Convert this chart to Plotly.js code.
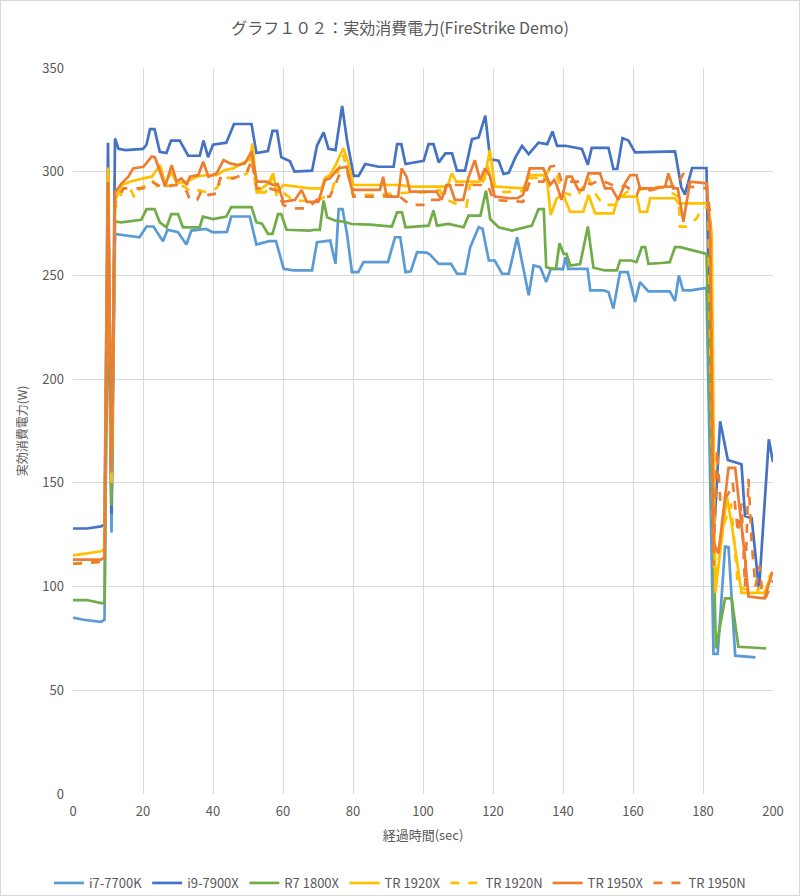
<!DOCTYPE html>
<html>
<head>
<meta charset="utf-8">
<script src="https://cdn.plot.ly/plotly-3.0.1.min.js"></script>
<style>
html,body{margin:0;padding:0;background:#fff;}
#wrap{position:relative;width:800px;height:896px;}
#chart{width:800px;height:896px;}
#frame{position:absolute;left:0;top:0;width:798px;height:894px;border:1px solid #D9D9D9;pointer-events:none;}
</style>
</head>
<body>
<div id="wrap"><div id="chart"></div><div id="frame"></div></div>
<script>
// ---- data (elapsed seconds, watts) ----
const seriesNames = ["i7-7700K","i9-7900X","R7 1800X","TR 1920X","TR 1920N","TR 1950X","TR 1950N"];

const i7X = [0,3,8,9,10,11,12,14,19,21,23,25.7,27,30,32.4,33.8,38,40,44,45.2,50.5,52.4,56,58,60.2,63,68.3,69.7,73.5,75,75.9,77,78.3,79.7,81.5,83,87,90,92,93.5,95,96.5,98.3,101,102,104.5,108,109.7,112,113.5,115.9,117,118.8,120.5,122.6,124.5,126.9,130.2,131.6,133.5,135.2,136.5,138.8,140,140.7,141.5,147,147.8,151.6,153,154.4,156.3,158.5,160.6,162,164.4,170.5,172,173.1,174.3,176.5,181,183,184.2,186.3,187.3,189.2,195];
const i7Y = [85,84,83,84,260,126,270,269.6,268.4,273.6,273.6,266.5,272,270.8,264.9,271.6,272.4,270.8,271,278.4,278.4,264.9,266.5,266.5,253.2,252.4,252.4,266,266.8,255.6,282,282,270,251.6,251.6,256.4,256.4,256.4,268.4,268.4,251.6,252,261.2,261,260,255.6,255.6,250.8,250.8,263.6,273.2,272.5,257.2,257.2,250.8,250.8,268.4,240.4,254.8,254,246.8,253.2,253.2,253,258.8,253.2,253.2,242.8,242.8,242,234,251.6,251.6,237.2,246.8,242.3,242.3,237.7,250,242.8,242.8,244,67.6,67.6,119.3,119,66.7,65.9];

const i9X = [0,4,8,9,10,11,12,13,15,20,21,22,23.3,24.8,26.7,28,30.5,32.9,36.2,37.3,38.6,40,43.8,46,51,52.4,55.7,57,58.3,59.5,62,63.3,68.3,69.7,71.6,73,75,76.9,78.3,80.2,81.6,83.5,87.3,91.6,92.6,93.8,95,100.2,101.6,103,104.5,106.4,108.3,109.7,112,114,115.9,117.8,119.2,121.6,123,124.5,126.4,128.3,130.2,133,135.5,137,138.3,140.7,145.4,147.1,148.2,153,154.4,155.5,157,158.7,160.6,164.5,170,172,173.8,174.8,176.9,181,183,184.9,187.1,191,192,193.9,196,198.8,200];
const i9Y = [128,128,129,130,314,135,316,311,310.4,311,313,320.5,320.5,309.6,309,315,315,307.7,307.7,315,307,313,314,323,323,309,310,319.7,319.7,307,305,300,300.5,312.5,319,311,310.4,331.7,315,298,298,303.7,302.4,302.4,313.3,313.3,303.7,305.3,313.3,313.3,304.5,308.8,308.8,300.5,300.5,315.7,316.5,327,306,305.3,298.9,299.5,306.9,312.5,308.5,314,313.3,319.4,312.5,312.5,311,303.4,311.5,311.5,301.3,301.3,316.2,315,309.3,309.5,309.8,309.8,292.5,289,301.8,301.8,120,179.7,161,159,134,133,98.6,171,160];

const r7X = [0,4,8,9,10,11,12,13.8,19.5,21,23.3,24.8,26.7,28.1,30,31.4,36.2,37.1,40,43.8,45.2,51,52.4,54,55.7,57,58.6,59.5,61,67.6,69,70.5,71.6,72.6,75,77,79.7,85,91.1,92.6,94,95,101.6,103,104,107.3,111.6,113,116.4,118,119.2,121.6,125.4,131.1,133,134.5,135.2,136.9,138,139,140.2,141,142.1,144.9,147.1,148.7,152,155.4,156.3,159.5,161,162.5,163.5,164.4,168,170.5,172,173.5,181,183.7,186.3,188.2,190.1,198];
const r7Y = [93.5,93.5,92,92,270,139,276,275.6,276.8,282,282,275.6,273.2,279.6,279.6,273.2,273.2,278.4,277.2,278.4,282.9,282.9,275.6,275,270,270,279.6,279.6,272,271.6,272,272,286.1,278,276.4,276,274.8,274.5,273.6,280.4,280.4,273.2,274,281.3,274,274.8,273.2,278.8,278.8,290.9,277.2,273.2,271.6,274,282,282,254,253.2,253.2,265.5,260.4,260.4,254.8,255.5,273.6,253.7,252.4,252.4,257.2,257.2,256.4,263.6,263.6,255.6,256,256.4,263.6,263.6,260.4,70.2,94.3,94.3,71,70.2];

const tr1920xX = [0,8,9,10,11,12,13.9,16.3,20.1,22.5,24.9,26.3,28.2,29.6,32.5,35.3,38.2,41,43.4,45.8,48.2,50.6,51.3,52.5,54,55.8,57.2,58.2,60.1,63.9,67.7,71,72,73.4,75,77.2,78.6,80.1,86.7,93.4,96.3,107,108.2,109.5,112.4,116,117.5,119.1,120.5,121,128.6,130.5,134.4,135.5,136.5,138.2,140.1,142,145.8,147.3,149.2,154.4,155.8,161.1,162,164,164.9,172,173,176.3,181.5,182.5,183.5,186.8,188.2,191,197.6,199.8];
const tr1920xY = [115,117,118,302,150,286,293.6,295.2,296.8,297.6,303.2,294.4,300,294.4,295.2,297.6,298.4,298.4,300.8,301.6,304,306,313.7,289.6,292,294.4,299.2,289.6,293.6,292.8,292,292,297,298.4,303,311.3,304.8,293.6,293.6,293.6,292.8,292.8,299.2,295.2,295.2,295.2,296,310.5,292.8,292.8,292,298.4,298.4,295,279.1,287.2,288.8,280.7,280.7,288.8,279.9,279.9,288,288,280.7,280.7,287.2,287.2,284.7,284.7,284.7,270,97,143.4,130,97,97,107];

const tr1920nX = [0,8,9,10,11,12,14.4,16,17.7,19.1,21,22.5,24,25.5,27,29,30.5,32.5,34,36,38.5,41,43,46,49.6,51,52.5,55,57.2,58.2,60.1,63,67,70,72,74,77.2,78.5,80.1,86,93.4,96.3,100,104.8,106,111.5,112.4,113.4,117,118.5,120.1,126.7,129.5,130.5,134.4,136.3,138,140,144,147.3,149,151.5,155,158,161,164,167.7,171,173,173.4,175.4,178.2,179.6,181.5,183,184,186,188,190,195,200];
const tr1920nY = [111,112,113,298,155,282,292,293,287.2,292,293.6,296,293,295,293,294,294,292,290,291,290,292,297,297,299,306,290,290,298,288,290,286,286,286,288,291,308,300,288.8,288.8,289.6,290,290,291.2,287,283.1,283.1,293.6,295,303,290,290.4,291,297,297,301.6,299,290,288,297,290,284,284,290,291,292,292.8,290,288,273.5,273.5,277.5,282.3,283,110,108,130,140,100,97,107];

const tr1950xX = [0,8,9,10,11,12,13.9,15.8,17.2,20.1,22.5,23.4,24.9,26.3,28.2,29.6,31,32.5,33.4,35.8,37.2,38.7,41,43,44.9,47.2,49.1,51,52.5,55.3,57.2,58.5,60.1,63.4,65.3,66.8,70.1,72,73.4,75.8,78.2,79.6,80.5,87.7,88.6,89.6,92.9,93.9,95.3,96.3,100.5,103.9,105.3,106.7,107.7,109.1,111.5,112.9,114.8,116.3,117.7,119.1,120.5,124.8,127,128.6,130.5,134.4,136.3,137.5,138.2,139.6,141.1,142.5,144.4,145.8,147.3,150.6,152,153.9,155.8,157.7,159.2,161,162,163,166.3,169.2,170.1,171.5,172.8,174.4,176.3,181.1,182,183,184.4,187.3,189.2,192,193,197.6,199.8];
const tr1950xY = [113,113,114,295,155,290,294.4,297.6,301.6,302.4,307.3,307,300,292.8,303.2,295.2,296.8,293.6,297.6,298.4,304.8,297.6,299.2,305.6,304,303.2,304,309.7,295.2,295.2,293.6,294,285.5,286.4,291.2,285.5,285.5,296,296.8,301.6,302.4,292,291.2,291.2,297.6,288,288,301.6,297.6,290.4,290.4,290.4,286.4,293.6,293.6,286.4,286.4,296.8,305.6,296,301.6,298,288,287.2,287.2,288.8,301.6,301.6,293.6,296,293.6,286.4,297.6,297.6,291.2,291.2,299.2,299.2,292,292,286.4,294.4,298.4,298.4,292,292,292,292.8,299.2,292,292,275.9,295.2,294.4,270,121,116,157.2,157.2,114,95.2,94.3,107];

const tr1950nX = [0,8,9,10,11,12,14.4,20.1,22.5,24.9,27,29.6,32.5,33.4,35.5,36.8,38.7,41,42,45.8,49.6,51,52.5,56,58.2,60.1,62.5,67,69.6,72,73.4,76.3,78.5,80.1,86.7,93,96.3,101,102,105.8,106.7,113.4,114.4,118.5,120.1,128.6,130.5,134.4,136.3,138.2,139.6,145,148,150.6,155.3,158,161.1,162,164.9,169,172.5,174.4,176.3,178,181.1,182,183,184,185,187.3,188.5,190,191,192,193,193.9,195,196.2,197,198,200];
const tr1950nY = [111,112,112,293,160,285,292,292,295.2,293,293,293.6,290.4,286.4,286.4,291.2,288.8,289.5,296.8,296.8,299.2,305.6,292,292,291,284,282.3,282.3,286.4,288,288,299.2,299.5,288,288,288.5,284,284,286.4,286.4,293.6,293.6,293.6,293.6,286.4,285.5,295.2,295.2,302.4,303,295.2,295.2,294,296,292.8,293,288.8,292.8,291,292.8,292.8,299.2,292.8,292.5,292,280,110,166,140,145,150,126,140,100,152,121,100,110,95,95,103];

const xTicks = [0,20,40,60,80,100,120,140,160,180,200];
const yTicks = [0,50,100,150,200,250,300,350];

// ---- styling ----
const FONT = '"Noto Sans CJK JP", "Noto Sans", sans-serif';
const GREY = '#595959';
const colors = ['#5B9BD5','#4472C4','#70AD47','#FFC000','#FFC000','#ED7D31','#ED7D31'];
const dashes = ['solid','solid','solid','solid','dash','solid','dash'];
const xs = [i7X,i9X,r7X,tr1920xX,tr1920nX,tr1950xX,tr1950nX];
const ys = [i7Y,i9Y,r7Y,tr1920xY,tr1920nY,tr1950xY,tr1950nY];

const traces = seriesNames.map((n,i)=>({
  type:'scatter', mode:'lines', name:n, x:xs[i], y:ys[i],
  line:{color:colors[i], width:2.7, dash:dashes[i]}
}));

const layout = {
  width:800, height:896,
  margin:{l:73, r:27, t:68, b:102},
  paper_bgcolor:'#fff', plot_bgcolor:'#fff',
  font:{family:FONT, color:GREY, size:12},
  title:{text:'グラフ１０２：実効消費電力(FireStrike Demo)', font:{family:FONT, size:16, color:GREY},
         xref:'container', x:0.5, xanchor:'center', yref:'container', y:1-28/896, yanchor:'middle'},
  xaxis:{range:[0,200], tickvals:xTicks, ticktext:xTicks.map(String), showgrid:true, gridcolor:'#D9D9D9', gridwidth:1,
         zeroline:false, showline:false, ticks:'', ticklabelstandoff:8, tickfont:{family:FONT, size:13, color:GREY},
         title:{text:'経過時間(sec)', font:{family:FONT, size:13, color:GREY}, standoff:11}},
  yaxis:{range:[0,350], tickvals:yTicks, ticktext:yTicks.map(String), showgrid:true, gridcolor:'#D9D9D9', gridwidth:1,
         zeroline:false, showline:false, ticks:'', ticklabelstandoff:8, tickfont:{family:FONT, size:13, color:GREY},
         title:{text:'実効消費電力(W)', font:{family:FONT, size:12, color:GREY}, standoff:12}},
  legend:{orientation:'h', xref:'container', x:0.5, xanchor:'center', yref:'container', y:1-883/896, yanchor:'middle',
          font:{family:FONT, size:13, color:GREY}, itemwidth:30, tracegroupgap:0},
  showlegend:true
};

Plotly.newPlot('chart', traces, layout, {displayModeBar:false, staticPlot:true});
</script>
</body>
</html>
